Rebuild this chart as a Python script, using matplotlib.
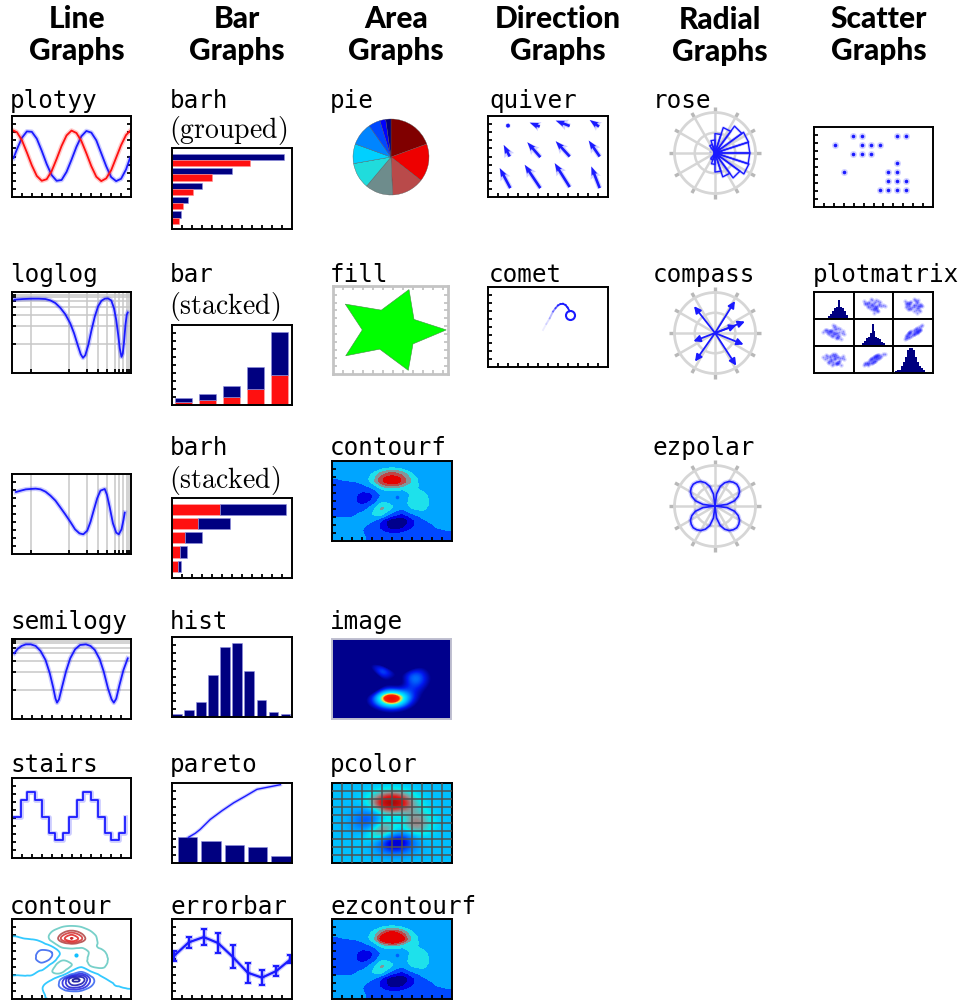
import numpy as np
import matplotlib
matplotlib.use('Agg')
import matplotlib.pyplot as plt
from matplotlib.colors import LinearSegmentedColormap
from matplotlib.tri import Triangulation, UniformTriRefiner, CubicTriInterpolator

W, H = 974, 1000
BLUE = '#1a1aff'
NAVY = '#000080'
RED = '#ff1010'
GREY = '#d6d6d6'

# column headings
headings = [('Line', 77, 28), ('Bar', 237, 28), ('Area', 396, 28),
            ('Direction', 558, 28), ('Radial', 720, 29), ('Scatter', 879, 28)]

# sampled curves, x in 0-12, y in 0-10
plotyy_x = [0.15, 0.5, 1, 1.5, 2, 2.5, 3, 3.5, 4, 4.5, 5, 5.5, 6, 6.5, 7, 7.5, 8, 8.5, 9, 9.5, 10, 10.5, 11, 11.5, 11.9]
plotyy_blue = [4.8, 5.9, 7.3, 8.1, 8.05, 7.2, 5.7, 4.06, 2.7, 2.0, 2.1, 3.1, 4.6, 6.2, 7.5, 8.15, 7.95, 7.0, 5.4, 3.8, 2.45, 1.96, 2.25, 3.4, 4.8]
plotyy_red = [8.2, 8.0, 7.0, 5.5, 3.9, 2.6, 2.0, 2.2, 3.2, 4.7, 6.3, 7.6, 8.2, 7.9, 6.9, 5.4, 3.8, 2.5, 1.96, 2.3, 3.3, 4.85, 6.4, 7.65, 8.15]

log_grid_x = [1.89, 5.7, 7.52, 8.69, 9.58, 10.34, 10.77, 11.17, 11.56, 11.83]
log_grid_y = [3.53, 5.85, 7.18, 8.13, 8.84, 9.38, 9.67, 9.96]

loglog_x = [0.23, 1.06, 1.89, 2.72, 3.38, 3.88, 4.38, 4.87, 5.37, 5.87, 6.26, 6.63, 6.93, 7.16, 7.39, 7.69, 8.02, 8.35, 8.68, 9.02, 9.35, 9.68, 10.01, 10.28, 10.51, 10.71, 10.87, 11.04, 11.17, 11.3, 11.44, 11.57, 11.67]
loglog_y = [9.05, 9.13, 9.17, 9.17, 9.13, 8.96, 8.63, 8.05, 7.26, 6.14, 4.9, 3.44, 2.32, 1.87, 2.2, 3.44, 5.31, 6.97, 8.22, 8.92, 9.17, 9.21, 8.96, 8.01, 6.56, 4.69, 3.03, 1.99, 2.41, 3.86, 5.93, 7.18, 7.47]

semilogx_x = [0.4, 0.89, 1.39, 1.89, 2.39, 2.88, 3.38, 3.88, 4.38, 4.87, 5.37, 5.87, 6.36, 6.8, 7.19, 7.59, 7.92, 8.25, 8.59, 8.92, 9.35, 9.58, 9.84, 10.18, 10.51, 10.77, 11.04, 11.24, 11.37]
semilogx_y = [7.75, 7.92, 8.08, 8.13, 8.17, 8.08, 7.79, 7.29, 6.67, 5.83, 4.96, 4.04, 3.08, 2.58, 2.46, 2.92, 4.04, 5.5, 6.96, 7.92, 8.13, 7.38, 5.92, 3.83, 2.67, 2.46, 3.08, 4.25, 5.17]

semilogy_x = [0.23, 0.56, 0.96, 1.39, 1.89, 2.39, 2.88, 3.38, 3.81, 4.15, 4.38, 4.54, 4.74, 5.04, 5.44, 5.87, 6.36, 6.86, 7.46, 7.92, 8.35, 8.85, 9.25, 9.68, 10.04, 10.27, 10.51, 10.84, 11.24, 11.67]
semilogy_y = [8.21, 8.75, 9.13, 9.33, 9.33, 9.13, 8.5, 7.38, 5.71, 3.96, 2.58, 2.04, 2.46, 3.96, 5.92, 7.58, 8.71, 9.25, 9.33, 9.13, 8.63, 7.46, 5.92, 3.83, 2.46, 2.04, 2.54, 4.25, 6.13, 7.58]
semilogy_grid = [3.63, 5.92, 7.25, 8.21, 8.92, 9.46, 9.79, 10]

stairs_x = [0.17, 0.89, 1.56, 2.32, 2.98, 3.71, 4.38, 5.11, 5.77, 6.53, 7.19, 7.95, 8.68, 9.35, 10.01, 10.74, 11.44]
stairs_y = [5.13, 7.29, 8.21, 7.29, 5.13, 3.13, 2.29, 3.13, 5.13, 7.29, 8.21, 7.29, 5.13, 3.13, 2.29, 3.13, 5.13]

# bars
grouped_navy = [11.2, 6.0, 3.0, 1.57, 0.93]
grouped_red = [7.77, 3.97, 2.13, 1.13, 0.73]
stacked_red = [0.38, 0.67, 1.0, 1.96, 3.71]
stacked_navy = [0.54, 0.75, 1.42, 2.79, 5.37]
hstacked_red = [4.77, 2.57, 1.33, 0.77, 0.57]
hstacked_navy = [6.66, 3.2, 1.64, 0.76, 0.33]
hist_counts = [0.33, 0.87, 1.91, 5.19, 8.76, 9.25, 5.73, 2.12, 0.66, 0.33]
pareto_bars = [3.22, 2.69, 2.19, 1.94, 0.91]
pareto_x = [0.04, 0.33, 0.54, 0.97, 1.47, 1.97, 2.47, 2.97, 3.47, 3.97]
pareto_y = [3.22, 3.72, 4.21, 5.45, 6.53, 7.52, 8.35, 9.21, 9.5, 9.79]

errorbar_x = [0.17, 1.67, 3.17, 4.6, 6.07, 7.57, 9.0, 10.43, 11.83]
errorbar_y = [5.35, 7.08, 7.74, 7.0, 5.27, 3.29, 2.67, 3.5, 4.94]
errorbar_err = [0.6, 0.68, 0.97, 1.23, 1.44, 1.23, 0.95, 0.62, 0.5]

# pie
pie_sizes = [70, 58, 49.5, 42.5, 40, 30, 35, 18, 9, 8]
pie_colors = ['#800000', '#ee0000', '#b94a4a', '#6e8c8c', '#20dcdc', '#00d0ff', '#0085ff', '#0048ff', '#0000ff', '#000080']

# star for fill
star_x = [1.23, 4.83, 7.6, 8.1, 11.33, 8.0, 7.53, 4.67, 1.27, 2.93]
star_y = [8.8, 8.04, 10.63, 6.87, 5.55, 3.79, 0.46, 3.13, 2.29, 5.55]

# peaks-like surface read on a 13x13 grid, top row is y=3, x runs -3..3
surf_axis = [-3, -2.5, -2, -1.5, -1, -0.5, 0, 0.5, 1, 1.5, 2, 2.5, 3]
surf_rows = [
    [0.03, 0.03, 0.03, 0.03, 0.11, 0.23, 0.30, 0.23, 0.11, 0.03, 0.03, 0.03, 0.03],
    [0.03, 0.03, 0.03, 0.2, 0.66, 1.45, 1.88, 1.48, 0.72, 0.22, 0.04, 0.03, 0.03],
    [0.02, 0.03, 0.08, 0.53, 2.1, 4.5, 5.86, 4.6, 2.2, 0.67, 0.13, 0.03, 0.03],
    [-0.02, -0.01, 0.02, 0.5, 2.6, 6.2, 8.0, 6.2, 3.2, 1.2, 0.29, 0.05, 0.03],
    [-0.05, -0.11, -0.49, -0.86, 0.23, 2.79, 3.69, 2.94, 2.44, 1.58, 0.58, 0.11, 0.03],
    [-0.05, -0.25, -1.13, -2.48, -2.0, 0.39, 0.46, 0.37, 2.38, 2.55, 1.09, 0.23, 0.03],
    [-0.05, -0.30, -1.33, -2.77, -1.65, 1.48, 0.98, 0.38, 2.94, 3.26, 1.41, 0.29, 0.03],
    [-0.05, -0.2, -0.8, -1.21, 0.8, 3.55, 2.0, 0.39, 2.2, 2.55, 1.12, 0.25, 0.03],
    [-0.03, -0.05, -0.13, 0.29, 1.85, 2.22, -0.72, -2.22, -0.27, 0.88, 0.5, 0.11, 0.03],
    [0.03, 0.03, 0.08, 0.32, 0.17, -2.17, -5.65, -5.74, -2.62, -0.44, 0.12, 0.05, 0.03],
    [0.03, 0.03, 0.05, 0.05, -0.59, -2.63, -4.76, -4.34, -2.1, -0.52, -0.06, 0.01, 0.03],
    [0.03, 0.03, 0.03, 0.03, -0.26, -0.92, -1.57, -1.41, -0.69, -0.18, -0.05, -0.04, -0.03],
    [0.03, 0.03, 0.03, 0.01, -0.03, -0.14, -0.25, -0.22, -0.11, -0.04, -0.03, -0.03, -0.03],
]
fill_levels = [-10, -4, -2, 0, 2, 3.5, 5, 6.5, 10]
ezfill_levels = [-10, -4, -2, 0, 2, 3.5, 4.6, 5.6, 10]
fill_colors = ['#00008c', '#0000e6', '#0048ff', '#00a5ff', '#1ee1eb', '#82969a', '#be4646', '#e60000']
line_levels = [-6, -5, -4, -3, -2, 0, 2, 5, 6, 7, 8]
line_colors = ['#000090', '#1010b0', '#1818d0', '#2020e0', '#3060f0', '#10c0ff', '#60c8c0', '#b04040', '#d03030', '#e02020', '#c00000']

# quiver: tail point and vector
quiver_x = [2.0, 5.17, 8.17, 11.1, 2.17, 5.23, 8.17, 11.17, 2.23, 5.23, 8.17, 11.17]
quiver_y = [8.81, 8.69, 8.77, 8.69, 5.0, 4.92, 5.0, 5.0, 1.1, 1.1, 1.23, 1.1]
quiver_u = [-0.05, -1.0, -1.4, -0.93, -0.6, -1.3, -1.4, -1.1, -1.06, -1.56, -1.5, -0.84]
quiver_v = [0.05, 0.49, 0.66, 0.82, 1.43, 1.84, 1.89, 1.97, 2.47, 2.88, 2.95, 2.67]

comet_x = [5.5, 5.83, 6.17, 6.5, 6.75, 7.0, 7.25, 7.5, 7.75, 7.95, 8.17]
comet_y = [4.62, 5.38, 6.09, 6.93, 7.35, 7.7, 7.87, 7.9, 7.75, 7.45, 6.97]
comet_alpha = [0.08, 0.15, 0.3, 0.5, 0.7, 0.85, 1, 1, 1, 1]
comet_head = (8.23, 6.51)

# polar panels
rose_centers = [-117, -99, -81, -63, -45, -27, -9, 9, 27, 45, 63, 81, 99, 117]
rose_radii = [0.18, 0.28, 0.47, 0.62, 0.76, 0.88, 0.86, 0.86, 0.87, 0.82, 0.66, 0.48, 0.32, 0.22]
rose_hub_deg = [0, 45, 90, 135, 180, 225, 270, 315]
rose_hub_r = [0.18, 0.17, 0.17, 0.14, 0.12, 0.14, 0.17, 0.17]
compass_deg = [58, 21, 20, -22, -57, -125, -159, 128]
compass_r = [0.93, 0.79, 0.56, 0.76, 0.96, 0.86, 0.57, 0.84]
ezpolar_lobe = [0, 0.3, 0.5, 0.62, 0.7, 0.74, 0.76, 0.74, 0.7, 0.62, 0.5, 0.3]

# scatter
scatter_x = [3.93, 4.81, 8.4, 9.31, 2.12, 4.81, 5.71, 6.62, 3.93, 4.81, 5.71, 8.4, 3.03, 7.5, 8.4, 7.5, 8.4, 9.31, 6.62, 7.5, 8.4, 9.31]
scatter_y = [8.84, 8.84, 8.84, 8.84, 7.77, 7.77, 7.77, 7.77, 6.65, 6.65, 6.65, 5.5, 4.38, 4.38, 4.38, 3.26, 3.26, 3.26, 2.15, 2.15, 2.15, 2.15]

# plotmatrix samples and histograms on the diagonal
sample_a = [0.1, -0.6, 0.9, -0.2, 0.4, -1.1, 0.7, -0.4, 1.4, 0.0, -0.8, 0.3, -1.5, 0.6, 1.1, -0.3, 0.2, -0.9, 1.7, -0.1, 0.5, -1.3, 0.8, -0.5, 0.0, 1.2, -0.7, 0.35, -1.8, 0.15, 0.95, -0.25, -1.0, 0.55, 1.5, -0.15, 0.25, -0.55, 0.75, -1.2]
sample_b = [-0.3, 0.5, 0.2, -1.0, 0.9, 0.1, -0.7, 0.4, -0.2, 1.3, -0.5, -1.4, 0.6, 0.0, 0.8, -0.9, 1.6, 0.3, -0.4, -0.1, -1.2, 0.7, 1.1, -0.6, 0.2, -1.7, 0.45, -0.25, 0.15, 1.0, -0.8, 0.65, -0.05, -1.1, 0.35, 1.9, -0.35, 0.05, -1.5, 0.55]
sample_c = [0.1, 0.6, -0.5, -1.1, 1.2, 0.5, -1.0, 0.2, 0.3, 1.0, -0.9, -1.2, 0.2, 0.7, 0.4, -1.3, 1.4, -0.3, 0.2, -0.7, -0.8, 1.2, 0.6, -0.2, 0.8, -1.4, 0.9, -0.8, 0.7, 0.5, -0.4, 1.1, -0.7, -0.8, 0.8, 1.5, 0.1, -0.5, -1.0, 1.0]
diag_hist_1 = [0, 0, 0, 0, 0, 0, 0, 0.1, 0.2, 0.3, 0.4, 0.45, 0.72, 0.45, 0.4, 0.3, 0.15, 0.05, 0, 0]
diag_hist_2 = [0, 0, 0, 0, 0.1, 0.2, 0.3, 0.35, 0.5, 0.83, 0.55, 0.35, 0.3, 0.25, 0.15, 0.1, 0.04, 0, 0, 0]
diag_hist_3 = [0, 0.06, 0.1, 0.12, 0.25, 0.4, 0.6, 0.85, 0.92, 0.92, 0.85, 0.6, 0.4, 0.25, 0.2, 0.12, 0.05, 0, 0, 0]

plt.rcParams['mathtext.fontset'] = 'cm'
fig = plt.figure(figsize=(W / 100, H / 100), dpi=100)


def label(text, x, y):
    fig.text(x / W, 1 - y / H, text, family='DejaVu Sans Mono', fontsize=17.5, va='baseline')


def note(text, x, y):
    fig.text(x / W, 1 - y / H, r'$\mathrm{%s}$' % text, fontsize=20, va='baseline')


def panel(left, top, right, bottom, xlim=(0, 12), ylim=(0, 10), xt=None, yt=None, color='k'):
    ax = fig.add_axes([left / W, 1 - bottom / H, (right - left) / W, (bottom - top) / H])
    ax.set_xlim(xlim)
    ax.set_ylim(ylim)
    ax.tick_params(direction='in', length=3, width=1.3, labelbottom=False, labelleft=False, color=color)
    # None means one tick per unit, an empty list means no ticks
    ax.set_xticks(np.arange(1, 12) if xt is None else xt)
    ax.set_yticks(np.arange(1, 10) if yt is None else yt)
    for s in ax.spines.values():
        s.set_linewidth(1.4)
        s.set_color(color)
    return ax


def soft(ax, x, y, color=BLUE, lw=1.3, **kw):
    ax.plot(x, y, color=color, lw=lw * 2.6, alpha=0.22, solid_joinstyle='round', **kw)
    ax.plot(x, y, color=color, lw=lw, solid_joinstyle='round', **kw)


def polar(cx, cy, radius=40.5):
    ax = fig.add_axes([(cx - radius) / W, 1 - (cy + radius) / H, 2 * radius / W, 2 * radius / H], projection='polar')
    spokes = np.radians(np.arange(0, 360, 30))
    ax.set_xticks(spokes)
    ax.set_yticks([0.5])
    ax.set_xticklabels([])
    ax.set_yticklabels([])
    ax.tick_params(length=0)
    ax.grid(color=GREY, lw=1.8)
    ax.spines['polar'].set_color(GREY)
    ax.spines['polar'].set_linewidth(2)
    for t in spokes:
        ax.plot([t, t], [1, 1.14], color='#b8b8b8', lw=2.4, clip_on=False, solid_capstyle='butt')
    ax.set_ylim(0, 1)
    return ax


for name, x, y in headings:
    fig.text(x / W, 1 - y / H, name, family='Lato', weight=900, fontsize=21.5, ha='center', va='baseline')
    fig.text(x / W, 1 - (y + 32) / H, 'Graphs', family='Lato', weight=900, fontsize=21.5, ha='center', va='baseline')

for text, x, y in [('plotyy', 10, 108), ('loglog', 10, 282), ('semilogy', 10, 629), ('stairs', 10, 772), ('contour', 10, 914),
                   ('barh', 170, 108), ('bar', 170, 282), ('barh', 170, 455), ('hist', 170, 629), ('pareto', 170, 772), ('errorbar', 170, 914),
                   ('pie', 330, 108), ('fill', 330, 282), ('contourf', 330, 455), ('image', 330, 629), ('pcolor', 330, 772), ('ezcontourf', 330, 914),
                   ('quiver', 489, 108), ('comet', 489, 282),
                   ('rose', 653, 108), ('compass', 653, 282), ('ezpolar', 653, 455),
                   ('plotmatrix', 813, 282)]:
    label(text, x, y)
note('(grouped)', 169, 138)
note('(stacked)', 169, 314)
note('(stacked)', 169, 488)

# line graphs
ax = panel(12, 116, 131, 197)
ax.tick_params(right=True)
soft(ax, plotyy_x, plotyy_blue)
soft(ax, plotyy_x, plotyy_red, color=RED)

ax = panel(12, 292, 131, 373, xt=log_grid_x, yt=log_grid_y)
ax.grid(color='#c8c8c8', lw=1.1)
soft(ax, loglog_x, loglog_y)

ax = panel(12, 474, 131, 554, xt=log_grid_x)
ax.grid(axis='x', color='#c8c8c8', lw=1.1)
soft(ax, semilogx_x, semilogx_y)

ax = panel(12, 639, 131, 719, yt=semilogy_grid)
ax.grid(axis='y', color='#c8c8c8', lw=1.1)
soft(ax, semilogy_x, semilogy_y)

ax = panel(12, 778, 131, 858)
ax.step(stairs_x, stairs_y, where='post', color=BLUE, lw=3.4, alpha=0.22)
ax.step(stairs_x, stairs_y, where='post', color=BLUE, lw=1.3)

# bar graphs
ax = panel(172, 148, 292, 229, ylim=(4.78, -0.817), yt=[])
rows = np.arange(len(grouped_navy))
ax.barh(rows - 0.22, grouped_navy, height=0.42, color=NAVY, edgecolor='#9090e0', lw=0.4)
ax.barh(rows + 0.22, grouped_red, height=0.42, color=RED, edgecolor='#ff9090', lw=0.4)

ax = panel(172, 325, 292, 405, xlim=(-0.486, 4.514), xt=[])
cols = np.arange(len(stacked_red))
ax.bar(cols, stacked_red, width=0.69, color=RED, edgecolor='#ffb0b0', lw=0.4)
ax.bar(cols, stacked_navy, bottom=stacked_red, width=0.69, color=NAVY, edgecolor='#9090e0', lw=0.4)

ax = panel(172, 498, 292, 578, ylim=(4.83, -0.8), yt=[])
rows = np.arange(len(hstacked_red))
ax.barh(rows, hstacked_red, height=0.8, color=RED, edgecolor='#ffb0b0', lw=0.4)
ax.barh(rows, hstacked_navy, left=hstacked_red, height=0.8, color=NAVY, edgecolor='#9090e0', lw=0.4)

ax = panel(172, 637, 292, 717, xlim=(-0.386, 9.53), xt=[])
ax.bar(np.arange(len(hist_counts)), hist_counts, width=0.8, color=NAVY, edgecolor='#9090e0', lw=0.4)

ax = panel(172, 783, 292, 863, xlim=(-0.67, 4.47), xt=[])
ax.bar(np.arange(len(pareto_bars)), pareto_bars, width=0.83, color=NAVY, edgecolor='#9090e0', lw=0.4)
soft(ax, pareto_x, pareto_y, lw=1.0)

ax = panel(172, 919, 292, 999)
ax.errorbar(errorbar_x, errorbar_y, yerr=errorbar_err, color=BLUE, lw=3.4, alpha=0.22, capsize=3, capthick=2.6)
ax.errorbar(errorbar_x, errorbar_y, yerr=errorbar_err, color=BLUE, lw=1.6, capsize=2.5, capthick=1.4)

# area graphs
ax = fig.add_axes([(391 - 38) / W, 1 - (157 + 38) / H, 76 / W, 76 / H])
ax.pie(pie_sizes, colors=pie_colors, startangle=90, counterclock=False, radius=1, wedgeprops=dict(edgecolor='#505050', lw=0.25))
ax.set_xlim(-1, 1)
ax.set_ylim(-1, 1)
ax.axis('off')

ax = panel(333, 286, 448, 374, xlim=(0, 11.5), ylim=(0, 11.08), xt=np.arange(1, 11.5), yt=np.arange(1, 11), color='#c4c4c4')
ax.tick_params(top=True, right=True)
for s in ax.spines.values():
    s.set_linewidth(2)
ax.fill(star_x, star_y, color='#00ff00', ec='#409040', lw=0.4)

surf_z = np.array(surf_rows)
gx, gy = np.meshgrid(surf_axis, surf_axis[::-1])
tri = Triangulation(gx.ravel(), gy.ravel())
smooth = CubicTriInterpolator(tri, surf_z.ravel(), kind='geom')
fine_tri, fine_z = UniformTriRefiner(tri).refine_field(surf_z.ravel(), triinterpolator=smooth, subdiv=3)

for top, levels in ((461, fill_levels), (919, ezfill_levels)):
    ax = panel(332, top, 452, top + 80, xlim=(-3, 3), ylim=(-3, 3), xt=np.linspace(-2.5, 2.5, 11), yt=np.linspace(-2.4, 2.4, 9))
    ax.tricontourf(fine_tri, fine_z, levels=levels, colors=fill_colors)
    ax.plot(0.25, 0.3, 'o', color='#0060ff', ms=2.6, mew=0)

image_cmap = LinearSegmentedColormap.from_list('image', [(0, '#00008c'), (0.167, '#0018f0'), (0.33, '#0080ff'), (0.45, '#00c0ff'),
                                                         (0.58, '#00f5ff'), (0.7, '#f0e040'), (0.78, '#ff2000'), (1, '#e00000')])
ax = panel(332, 639, 451, 719, xt=[], yt=[], color='#c0c0d0')
ax.imshow(surf_z, extent=(0, 12, 0, 10), origin='lower', aspect='auto', cmap=image_cmap, vmin=1, vmax=7, interpolation='bicubic')

pcolor_cmap = LinearSegmentedColormap.from_list('thumb', [(0, '#0000a0'), (0.17, '#0000f0'), (0.31, '#0068ff'), (0.45, '#00c0ff'),
                                                          (0.517, '#00f0f0'), (0.62, '#8c9a9a'), (0.76, '#e01818'), (1, '#800000')])
ax = panel(332, 783, 452, 863)
ax.imshow(surf_z, extent=(0, 12, 0, 10), origin='upper', aspect='auto', cmap=pcolor_cmap, vmin=-6.5, vmax=8, interpolation='bicubic')
ax.grid(color='#505050', lw=1.1)
ax.tick_params(length=0)
ax.set_axisbelow(False)

ax = panel(12, 919, 131, 999, xlim=(-3, 3), ylim=(-3, 3), xt=np.linspace(-2.5, 2.5, 11), yt=np.linspace(-2.4, 2.4, 9))
ax.tricontour(fine_tri, fine_z, levels=line_levels, colors=line_colors, linewidths=1.3, alpha=0.85)
ax.plot(0.25, 0.3, 'o', color='#10c0ff', ms=3, mew=0)

# direction graphs
ax = panel(488, 116, 608, 197)
ax.quiver(quiver_x, quiver_y, quiver_u, quiver_v, angles='xy', scale_units='xy', scale=1, color=BLUE,
          units='width', width=0.042, headwidth=2.2, headlength=2.4, headaxislength=2.2, minlength=1.1, alpha=0.2)
ax.quiver(quiver_x, quiver_y, quiver_u, quiver_v, angles='xy', scale_units='xy', scale=1, color=BLUE,
          units='width', width=0.022, headwidth=2.4, headlength=3.4, headaxislength=3, minlength=1.6)

ax = panel(488, 287, 608, 367)
for i, a in enumerate(comet_alpha):
    ax.plot(comet_x[i:i + 2], comet_y[i:i + 2], color=BLUE, lw=1.3, alpha=a)
ax.plot(*comet_head, 'o', mfc='none', mec=BLUE, mew=1.5, ms=6.5)

# radial graphs
ax = polar(715, 153)
ax.fill(np.radians(rose_hub_deg), rose_hub_r, color=BLUE)
for c, r in zip(rose_centers, rose_radii):
    t0, t1 = np.radians(c - 9), np.radians(c + 9)
    ax.plot([0, t0, t1, 0], [0, r, r, 0], color=BLUE, lw=2.2, alpha=0.15)
    ax.plot([0, t0, t1, 0], [0, r, r, 0], color=BLUE, lw=1)
ax.set_ylim(0, 1)

ax = polar(715, 333)
for d, r in zip(compass_deg, compass_r):
    ax.annotate('', xy=(np.radians(d), r), xytext=(0, 0),
                arrowprops=dict(arrowstyle='-|>', color=BLUE, lw=1.3, mutation_scale=10, shrinkA=0, shrinkB=0))

ax = polar(715, 506)
lobes = np.tile(ezpolar_lobe, 4)
theta = np.radians(np.arange(len(lobes) + 1) * 7.5)
soft(ax, theta, np.append(lobes, lobes[0]), lw=1.2)
ax.set_ylim(0, 1)

# scatter graphs
ax = panel(814, 127, 933, 207)
ax.plot(scatter_x, scatter_y, 'o', color=BLUE, ms=5, alpha=0.2, mew=0)
ax.plot(scatter_x, scatter_y, 'o', color=BLUE, ms=2.6, mew=0)

samples = [sample_a, sample_b, sample_c]
diag = [diag_hist_1, diag_hist_2, diag_hist_3]
cell = 119 / 3
for r in range(3):
    for c in range(3):
        left, top = 814 + c * cell, 292 + r * 27
        ax = panel(left, top, left + cell, top + 27, xt=[], yt=[])
        if r == c:
            ax.bar(np.arange(20), diag[r], width=1, color=NAVY)
            ax.set_xlim(-0.5, 19.5)
            ax.set_ylim(0, 1)
        else:
            ax.plot(samples[c], samples[r], 'o', color=BLUE, ms=3.2, alpha=0.16, mew=0)
            ax.plot(samples[c], samples[r], 'o', color=BLUE, ms=1.3, alpha=0.35, mew=0)
            ax.set_xlim(-3.4, 3.4)
            ax.set_ylim(-3.4, 3.4)

fig.savefig('out.png', dpi=100)
